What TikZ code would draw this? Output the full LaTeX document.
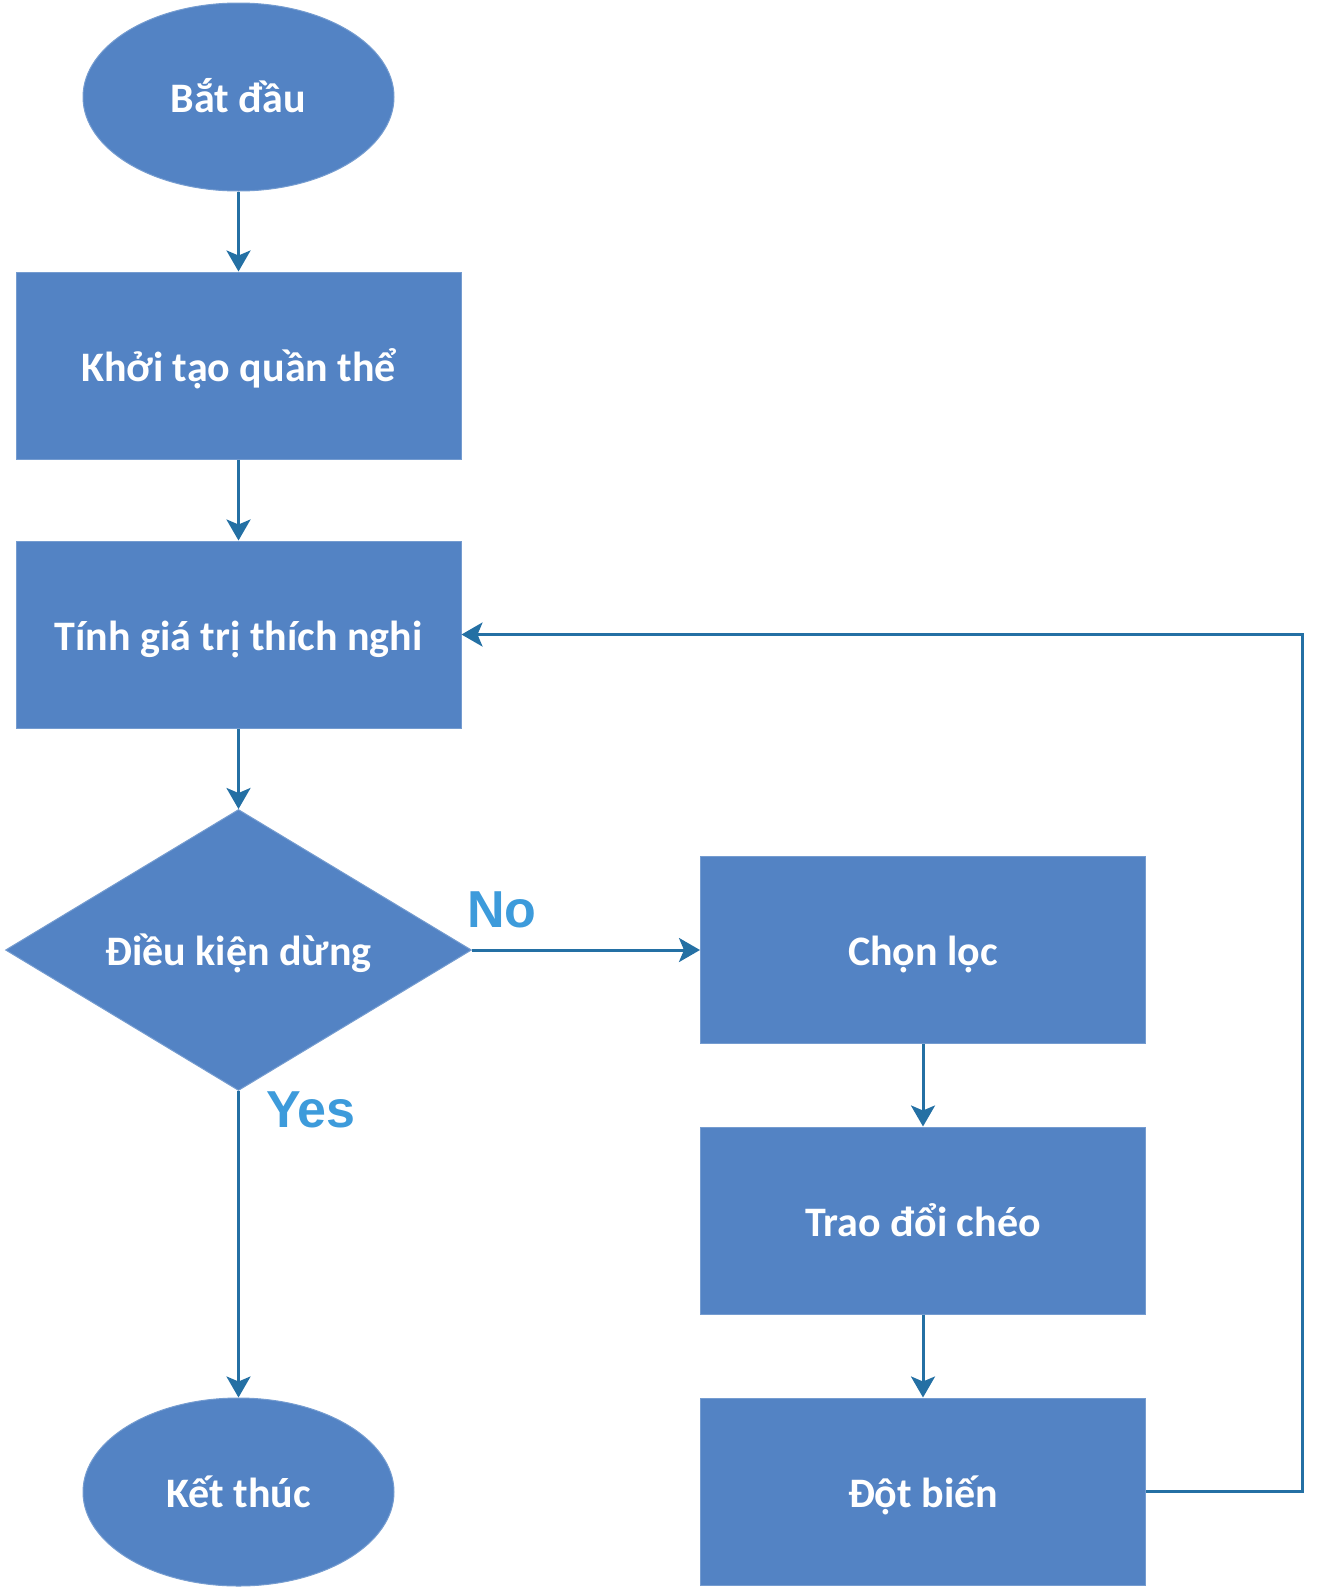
\documentclass[tikz,border=0pt]{standalone}
\usepackage{fontspec}
\setmainfont{Carlito}
\newfontfamily\labfont{Liberation Sans}
\usetikzlibrary{shapes.geometric,arrows.meta}
\definecolor{boxfill}{HTML}{5383C4}
\definecolor{linec}{HTML}{2470A4}
\definecolor{labc}{HTML}{3D9BDB}
\tikzset{
  every node/.style={font=\fontsize{42}{48}\selectfont\bfseries, text=white},
  fixtext/.style={text height=40pt, text depth=9pt},
  oval/.style={fixtext, ellipse, fill=boxfill, draw=boxfill!80!white, line width=1pt, minimum width=311pt, minimum height=188pt, inner sep=0pt},
  procbox/.style={fixtext, rectangle, fill=boxfill, draw=boxfill!80!white, line width=1pt, minimum width=445pt, minimum height=187pt, inner sep=0pt},
  decbox/.style={fixtext, diamond, fill=boxfill, draw=boxfill!80!white, line width=1pt, aspect=1.66, minimum width=466pt, minimum height=281pt, inner sep=0pt},
  conn/.style={draw=linec, line width=3pt, -{Stealth[length=21pt,width=24pt,inset=5pt]}},
  yn/.style={font=\labfont\fontsize{52}{56}\selectfont\bfseries, text=labc}
}
\begin{document}
\begin{tikzpicture}[x=1pt,y=-1pt]
\useasboundingbox (0,0) rectangle (1329,1588);
\node[oval] (start) at (238.5,97) {Bắt đầu};
\node[procbox] (init) at (238.5,365.5) {Khởi tạo quần thể};
\node[procbox] (fit) at (238.5,634.5) {Tính giá trị thích nghi};
\node[decbox] (cond) at (238.5,950) {Điều kiện dừng};
\node[oval] (stop) at (238.5,1492) {Kết thúc};
\node[procbox] (sel) at (923,950) {Chọn lọc};
\node[procbox] (cross) at (923,1220.5) {Trao đổi chéo};
\node[procbox] (mut) at (923,1491.5) {Đột biến};
\node[yn] (no) at (502,910) {No};
\node[yn] (yes) at (311,1110) {Yes};
\coordinate (corner) at (1302,1491.5);
\draw[conn] (start.south) -- (init.north);
\draw[conn] (init.south) -- (fit.north);
\draw[conn] (fit.south) -- (cond.north);
\draw[conn] (cond.east) -- (sel.west);
\draw[conn] (cond.south) -- (stop.north);
\draw[conn] (sel.south) -- (cross.north);
\draw[conn] (cross.south) -- (mut.north);
\draw[conn] (mut.east) -- (corner) |- (fit.east);
\end{tikzpicture}
\end{document}
